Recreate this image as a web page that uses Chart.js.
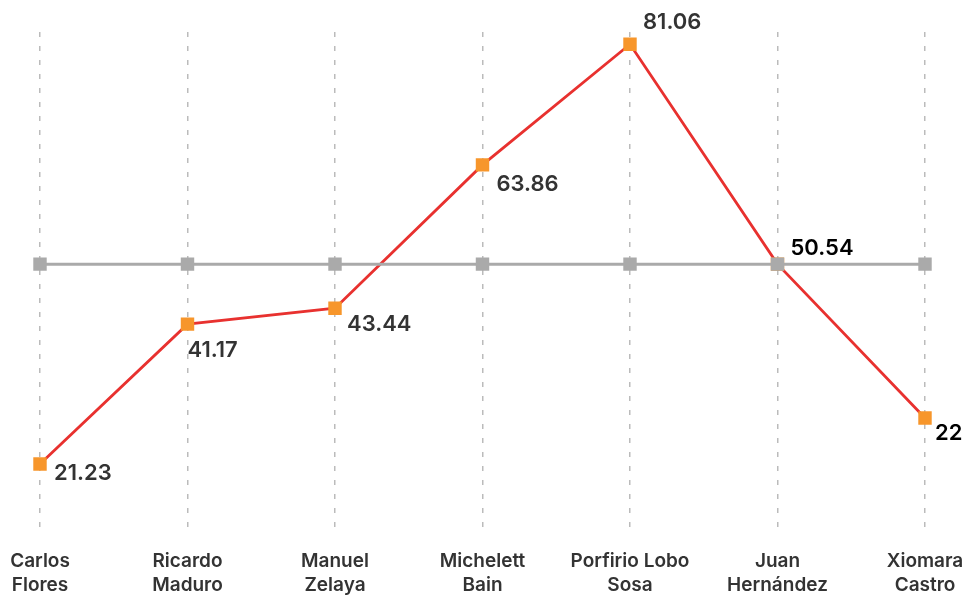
<!DOCTYPE html>
<html>
<head>
<meta charset="utf-8">
<script src="https://cdn.jsdelivr.net/npm/chart.js@4"></script>
<style>
  html, body { margin: 0; padding: 0; background: #fff; overflow: hidden; }
  #wrap { width: 967px; height: 597px; }
</style>
</head>
<body>
<div id="wrap"><canvas id="myChart"></canvas></div>
<script>
// categories (two-line labels)
const names = [
  ["Carlos", "Flores"],
  ["Ricardo", "Maduro"],
  ["Manuel", "Zelaya"],
  ["Michelett", "Bain"],
  ["Porfirio Lobo", "Sosa"],
  ["Juan", "Hernández"],
  ["Xiomara", "Castro"]
];
// red series, as placed on the picture
const values = [21.23, 41.17, 43.44, 63.86, 81.06, 49.72, 27.78];
// text printed next to each point
const valueLabels = ["21.23", "41.17", "43.44", "63.86", "81.06", "50.54", "22"];
// gray reference line
const refLine = [49.72, 49.72, 49.72, 49.72, 49.72, 49.72, 49.72];

// label offsets from the point (dx, dy) and colours
const labelOffsets = [[14, 9], [0, 26], [12, 16], [14, 19], [13, -22], [13, -16], [10, 15]];
const labelColors = ["#333", "#333", "#333", "#333", "#333", "#000", "#000"];

// small plugin to draw the value labels
const valueLabelPlugin = {
  id: "valueLabels",
  afterDatasetsDraw(chart) {
    const ctx = chart.ctx;
    const meta = chart.getDatasetMeta(1);
    ctx.save();
    ctx.font = "600 22px Inter";
    ctx.textAlign = "left";
    ctx.textBaseline = "middle";
    meta.data.forEach((pt, i) => {
      ctx.fillStyle = labelColors[i];
      ctx.fillText(valueLabels[i], pt.x + labelOffsets[i][0], pt.y + labelOffsets[i][1]);
    });
    ctx.restore();
  }
};

const ctx = document.getElementById("myChart");

new Chart(ctx, {
  type: "line",
  data: {
    labels: names,
    datasets: [
      {
        label: "ref",
        data: refLine,
        borderColor: "#aaaaaa",
        borderWidth: 3,
        backgroundColor: "#aaaaaa",
        pointStyle: "rect",
        pointRadius: 9.5,
        pointBorderWidth: 0,
        tension: 0
      },
      {
        label: "valores",
        data: values,
        borderColor: "#e8312f",
        borderWidth: 2.8,
        backgroundColor: "#f7962b",
        pointStyle: "rect",
        pointRadius: 9.5,
        pointBorderWidth: 0,
        tension: 0
      }
    ]
  },
  options: {
    responsive: true,
    maintainAspectRatio: false,
    animation: false,
    layout: { padding: { left: 40, right: 42, top: 32, bottom: 0 } },
    plugins: {
      legend: { display: false },
      tooltip: { enabled: false }
    },
    scales: {
      x: {
        offset: false,
        grid: {
          color: "#bbbbbb",
          lineWidth: 1.5,
          drawTicks: true,
          tickLength: 21,
          tickColor: "rgba(0,0,0,0)"
        },
        border: { display: false, dash: [5, 9] },
        ticks: {
          autoSkip: false,
          maxRotation: 0,
          padding: 0,
          color: "#333",
          font: { family: "Inter", size: 19, weight: "600", lineHeight: 1.26 }
        }
      },
      y: {
        display: false,
        min: 12.1,
        max: 82.8
      }
    }
  },
  plugins: [valueLabelPlugin]
});
</script>
</body>
</html>
